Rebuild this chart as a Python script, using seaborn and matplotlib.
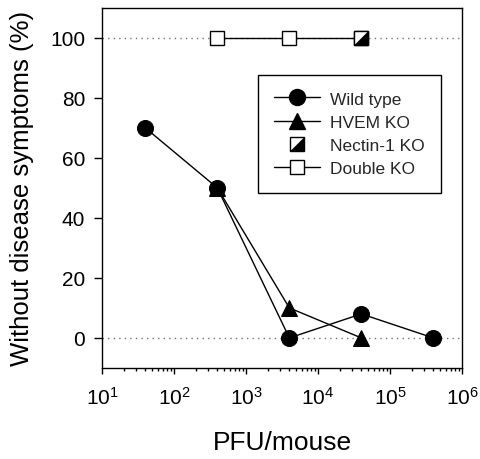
import numpy as np
import pandas as pd
import matplotlib
matplotlib.use("Agg")
import matplotlib.pyplot as plt
import seaborn as sns
from matplotlib.path import Path
from matplotlib.lines import Line2D
from matplotlib.legend_handler import HandlerTuple

# data
wt_pfu = [40, 400, 4000, 40000, 400000]
wt_pct = [70, 50, 0, 8, 0]
hvem_pfu = [400, 4000, 40000]
hvem_pct = [50, 10, 0]
nectin_pfu = [40000]
nectin_pct = [100]
dko_pfu = [400, 4000, 40000]
dko_pct = [100, 100, 100]

sns.set_theme(style="ticks")
plt.rcParams['font.family'] = ['Liberation Sans', 'DejaVu Sans']
plt.rcParams['mathtext.fontset'] = 'custom'
plt.rcParams['mathtext.rm'] = 'Liberation Sans'
plt.rcParams['mathtext.it'] = 'Liberation Sans'

fig = plt.figure(figsize=(4.8, 4.6), dpi=100)
ax = fig.add_axes([0.2125, 0.198, 0.75, 0.7826])

# dotted reference lines
for yref in (0, 100):
    ax.axhline(yref, color='0.45', lw=1, ls=(0, (1, 3)), zorder=0)

sns.lineplot(x=dko_pfu, y=dko_pct, ax=ax, color='black', lw=1, marker='s',
             markersize=9.5, markerfacecolor='white', markeredgecolor='black',
             markeredgewidth=1, zorder=3)
sns.lineplot(x=hvem_pfu, y=hvem_pct, ax=ax, color='black', lw=1, marker='^',
             markersize=11.5, markerfacecolor='black', markeredgecolor='black', zorder=4)
sns.lineplot(x=wt_pfu, y=wt_pct, ax=ax, color='black', lw=1, marker='o',
             markersize=11.5, markerfacecolor='black', markeredgecolor='black', zorder=5)

# half filled square for Nectin-1 KO
tri = Path([(1, -1), (1, 1), (-1, -1), (1, -1)],
           [Path.MOVETO, Path.LINETO, Path.LINETO, Path.CLOSEPOLY])
ax.plot(nectin_pfu, nectin_pct, ls='none', marker='s', markersize=9.5,
        markerfacecolor='white', markeredgecolor='black', markeredgewidth=1, zorder=6)
ax.plot(nectin_pfu, nectin_pct, ls='none', marker=tri, markersize=9.5,
        markerfacecolor='black', markeredgecolor='black', markeredgewidth=0.5, zorder=7)

ax.set_xscale('log')
ax.set_xlim(10, 1e6)
ax.set_ylim(-10, 110)
ax.set_yticks([0, 20, 40, 60, 80, 100])
ax.set_xticks([1e1, 1e2, 1e3, 1e4, 1e5, 1e6])
ax.xaxis.set_minor_locator(matplotlib.ticker.LogLocator(base=10, subs=np.arange(2, 10)))
ax.xaxis.set_minor_formatter(matplotlib.ticker.NullFormatter())

for s in ax.spines.values():
    s.set_visible(True)
    s.set_color('black')
    s.set_linewidth(1)
ax.tick_params(axis='both', which='major', direction='out', width=1,
               color='black', labelsize=15, labelcolor='black')
ax.tick_params(axis='y', which='major', length=6, pad=6)
ax.tick_params(axis='x', which='major', length=4, pad=9)
ax.tick_params(axis='x', which='minor', direction='out', length=2.5, width=1, color='black')

ax.set_xlabel('PFU/mouse', fontsize=19, labelpad=16, color='black')
ax.set_ylabel('Without disease symptoms (%)', fontsize=18.5, labelpad=12, color='black')

# legend
h_wt = Line2D([], [], color='black', lw=1, marker='o', markersize=11.5, markerfacecolor='black')
h_hv = Line2D([], [], color='black', lw=1, marker='^', markersize=11.5, markerfacecolor='black')
h_n1 = (Line2D([], [], ls='none', marker='s', markersize=9.5, markerfacecolor='white',
               markeredgecolor='black', markeredgewidth=1),
        Line2D([], [], ls='none', marker=tri, markersize=9.5, markerfacecolor='black',
               markeredgecolor='black', markeredgewidth=0.5))
h_dk = Line2D([], [], color='black', lw=1, marker='s', markersize=9.5,
              markerfacecolor='white', markeredgecolor='black')
leg = ax.legend([h_wt, h_hv, h_n1, h_dk],
                ['Wild type', 'HVEM KO', 'Nectin-1 KO', 'Double KO'],
                handler_map={tuple: HandlerTuple(ndivide=1, pad=0)},
                loc='upper left', bbox_to_anchor=(0.433, 0.814), borderaxespad=0,
                fontsize=12.5, frameon=True, fancybox=False, edgecolor='black',
                framealpha=1, handlelength=2.65, borderpad=0.95, labelspacing=0.47,
                handletextpad=0.55)
leg.get_frame().set_linewidth(1)

fig.savefig('out.png', dpi=100)
